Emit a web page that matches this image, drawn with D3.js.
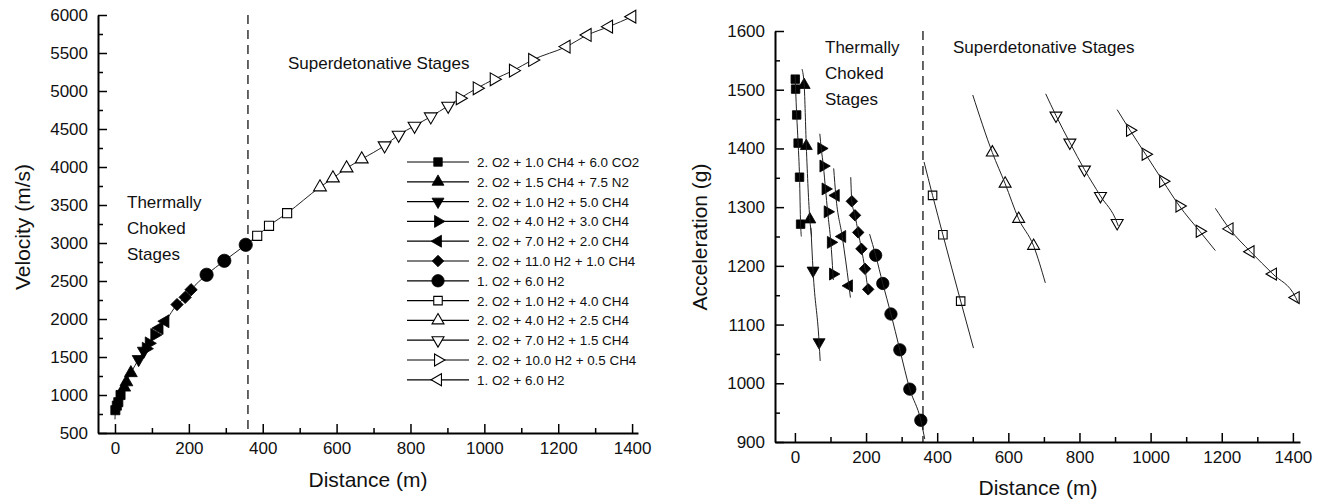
<!DOCTYPE html>
<html>
<head>
<meta charset="utf-8">
<script src="https://cdn.jsdelivr.net/npm/d3@7"></script>
<style>
  body { margin: 0; background: #fff; }
  text { font-family: "Liberation Sans", Arial, sans-serif; fill: #111; }
  .axis path, .axis line { stroke: #000; }
  .axis .domain { stroke-width: 2; }
  .axis .tick line { stroke-width: 1.5; }
  .axis text { font-size: 17px; font-family: "Liberation Sans", Arial, sans-serif; }
  .legend text { font-family: "Liberation Sans", Arial, sans-serif; font-size: 13.4px; }
</style>
</head>
<body>
<svg id="chart" width="1325" height="502"></svg>
<script>

// series (same order as the legend)
var seriesNames = [
  "2. O2 + 1.0 CH4 + 6.0 CO2",
  "2. O2 + 1.5 CH4 + 7.5 N2",
  "2. O2 + 1.0 H2 + 5.0 CH4",
  "2. O2 + 4.0 H2 + 3.0 CH4",
  "2. O2 + 7.0 H2 + 2.0 CH4",
  "2. O2 + 11.0 H2 + 1.0 CH4",
  "1. O2 + 6.0 H2",
  "2. O2 + 1.0 H2 + 4.0 CH4",
  "2. O2 + 4.0 H2 + 2.5 CH4",
  "2. O2 + 7.0 H2 + 1.5 CH4",
  "2. O2 + 10.0 H2 + 0.5 CH4",
  "1. O2 + 6.0 H2"
];

// velocity vs distance (left panel)
var velDistance = [
  [1, 5, 9, 15],
  [25, 31, 43],
  [64, 78],
  [84, 92, 107],
  [120, 136],
  [168, 190, 206],
  [248, 296, 354],
  [385, 417, 466],
  [555, 590, 627, 668],
  [730, 768, 811, 855, 902],
  [934, 980, 1026, 1078, 1130],
  [1222, 1279, 1337, 1400]
];
var velValue = [
  [800, 860, 905, 1000],
  [1100, 1170, 1290],
  [1470, 1580],
  [1610, 1680, 1790],
  [1880, 1970],
  [2190, 2285, 2385],
  [2582, 2766, 2976],
  [3095, 3226, 3393],
  [3735, 3853, 3984, 4103],
  [4282, 4422, 4541, 4663, 4804],
  [4904, 5036, 5154, 5268, 5408],
  [5584, 5737, 5847, 5978]
];
var velCurveStart = [0, 680];

// acceleration vs distance (right panel)
var accDistance = [
  [1, 2, 5, 9, 13, 16],
  [26, 32, 42],
  [51, 68],
  [74, 80, 86, 92, 101, 107],
  [115, 133, 152],
  [160, 169, 178, 187, 197, 206],
  [227, 247, 270, 295, 323, 354],
  [387, 416, 466],
  [555, 591, 629, 671],
  [734, 773, 814, 859, 906],
  [942, 986, 1035, 1081, 1138],
  [1222, 1281, 1344, 1408]
];
var accValue = [
  [1518, 1501, 1457, 1409, 1351, 1271],
  [1508, 1404, 1279],
  [1192, 1070],
  [1400, 1370, 1331, 1292, 1240, 1186],
  [1320, 1250, 1166],
  [1310, 1286, 1257, 1229, 1195, 1160],
  [1218, 1170, 1118, 1057, 990, 937],
  [1320, 1253, 1140],
  [1393, 1340, 1280, 1234],
  [1456, 1410, 1364, 1319, 1273],
  [1431, 1390, 1344, 1302, 1259],
  [1263, 1224, 1186, 1146]
];
// where each acceleration curve starts and ends [distance, g]
var accLineStart = [[0, 1525], [20, 1535], [45, 1265], [70, 1425], [109, 1366], [157, 1351],
                    [210, 1254], [363, 1377], [500, 1491], [705, 1493], [906, 1466], [1182, 1298]];
var accLineEnd = [[18, 1250], [47, 1250], [71, 1038], [108, 1176], [156, 1146], [208, 1156],
                  [365, 905], [502, 1060], [704, 1171], [909, 1268], [1182, 1226], [1415, 1137]];

var distTicks = [0, 200, 400, 600, 800, 1000, 1200, 1400];
var velTicks = [500, 1000, 1500, 2000, 2500, 3000, 3500, 4000, 4500, 5000, 5500, 6000];
var accTicks = [900, 1000, 1100, 1200, 1300, 1400, 1500, 1600];
var stageBoundary = 360;

// marker styles
var shapes = ["square", "up", "down", "right", "left", "diamond", "circle",
              "square", "up", "down", "right", "left"];
var hollow = [false, false, false, false, false, false, false, true, true, true, true, true];

var svg = d3.select("#chart");

function markerPath(shape, scale) {
  var type = d3.symbolTriangle, size = 62;
  if (shape == "square") { type = d3.symbolSquare; size = 72; }
  if (shape == "diamond") { type = d3.symbolSquare; size = 66; }
  if (shape == "circle") { type = d3.symbolCircle; size = 120; }
  return d3.symbol().type(type).size(size * scale)();
}
function markerTurn(shape) {
  return { down: 180, right: 90, left: -90, diamond: 45 }[shape] || 0;
}
function drawMarker(g, shape, open, x, y, scale) {
  g.append("path")
    .attr("d", markerPath(shape, scale))
    .attr("transform", "translate(" + x + "," + y + ") rotate(" + markerTurn(shape) + ")")
    .attr("fill", open ? "#fff" : "#000")
    .attr("stroke", "#000")
    .attr("stroke-width", open ? 1.1 : 0.8);
}

// draw axes with inward ticks, major + minor
function drawAxes(x, y, xMinor, yMinor, yTicks) {
  var bottom = y.range()[0], left = x.range()[0];
  svg.append("g").attr("class", "axis").attr("transform", "translate(0," + bottom + ")")
    .call(d3.axisBottom(x).tickValues(xMinor).tickSizeInner(-5).tickSizeOuter(0).tickFormat(""))
    .select(".domain").remove();
  svg.append("g").attr("class", "axis").attr("transform", "translate(" + left + ",0)")
    .call(d3.axisLeft(y).tickValues(yMinor).tickSizeInner(-5).tickSizeOuter(0).tickFormat(""))
    .select(".domain").remove();
  svg.append("g").attr("class", "axis").attr("transform", "translate(0," + bottom + ")")
    .call(d3.axisBottom(x).tickValues(distTicks).tickSizeInner(-9).tickSizeOuter(0).tickPadding(9).tickFormat(d3.format("d")));
  svg.append("g").attr("class", "axis").attr("transform", "translate(" + left + ",0)")
    .call(d3.axisLeft(y).tickValues(yTicks).tickSizeInner(-9).tickSizeOuter(0).tickPadding(10).tickFormat(d3.format("d")));
}

function dashedBoundary(x, y) {
  svg.append("line")
    .attr("x1", x(stageBoundary)).attr("x2", x(stageBoundary))
    .attr("y1", y.range()[1]).attr("y2", y.range()[0])
    .attr("stroke", "#000").attr("stroke-width", 1.2)
    .attr("stroke-dasharray", "9,6");
}

function label(txt, x, y, size, anchor, rotate) {
  var t = svg.append("text").attr("x", x).attr("y", y)
    .attr("font-size", size).attr("text-anchor", anchor || "start").text(txt);
  if (rotate) t.attr("transform", "rotate(-90," + x + "," + y + ")");
  return t;
}

// ================= left panel: velocity =================
var vx = d3.scaleLinear().domain([-46, 1416]).range([98, 638]);
var vy = d3.scaleLinear().domain([500, 6000]).range([433, 15]);

drawAxes(vx, vy, d3.range(100, 1400, 200), d3.range(750, 6000, 500), velTicks);
dashedBoundary(vx, vy);

var velPoints = [velCurveStart];
velDistance.forEach(function(ds, i) {
  ds.forEach(function(d, j) { velPoints.push([d, velValue[i][j]]); });
});
velPoints.sort(function(a, b) { return a[0] - b[0]; });

var vline = d3.line()
  .x(function(d) { return vx(d[0]); })
  .y(function(d) { return vy(d[1]); })
  .curve(d3.curveMonotoneX);

svg.append("path").datum(velPoints)
  .attr("d", vline).attr("fill", "none").attr("stroke", "#222").attr("stroke-width", 1);

var vmarks = svg.append("g");
velDistance.forEach(function(ds, i) {
  ds.forEach(function(d, j) {
    drawMarker(vmarks, shapes[i], hollow[i], vx(d), vy(velValue[i][j]), 1.15);
  });
});

label("Superdetonative Stages", 288, 69, 17);
label("Thermally", 127, 208, 17);
label("Choked", 127, 234, 17);
label("Stages", 127, 260, 17);
label("Velocity (m/s)", 30, 227, 21, "middle", true);
label("Distance (m)", 368, 487, 21, "middle");

// legend
var legend = svg.append("g").attr("class", "legend");
seriesNames.forEach(function(name, i) {
  var ly = 162 + i * 19.8;
  legend.append("line").attr("x1", 407).attr("x2", 469).attr("y1", ly).attr("y2", ly)
    .attr("stroke", "#000").attr("stroke-width", 1.2);
  drawMarker(legend, shapes[i], hollow[i], 438, ly, 1.0);
  legend.append("text").attr("x", 477).attr("y", ly + 5).text(name);
});

// ================= right panel: acceleration =================
var ax = d3.scaleLinear().domain([-56, 1420]).range([775, 1300]);
var ay = d3.scaleLinear().domain([900, 1600]).range([442, 31]);

drawAxes(ax, ay, d3.range(100, 1400, 200), d3.range(950, 1600, 100), accTicks);
dashedBoundary(ax, ay);

var aline = d3.line()
  .x(function(d) { return ax(d[0]); })
  .y(function(d) { return ay(d[1]); })
  .curve(d3.curveMonotoneX);

var amarks = svg.append("g");
accDistance.forEach(function(ds, i) {
  var pts = [accLineStart[i]];
  ds.forEach(function(d, j) { pts.push([d, accValue[i][j]]); });
  pts.push(accLineEnd[i]);
  svg.append("path").datum(pts)
    .attr("d", aline).attr("fill", "none").attr("stroke", "#222").attr("stroke-width", 1);
});
accDistance.forEach(function(ds, i) {
  ds.forEach(function(d, j) {
    drawMarker(amarks, shapes[i], hollow[i], ax(d), ay(accValue[i][j]), 1.0);
  });
});

label("Thermally", 825, 53, 17);
label("Choked", 825, 79, 17);
label("Stages", 825, 105, 17);
label("Superdetonative Stages", 953, 53, 17);
label("Acceleration (g)", 707, 237, 21, "middle", true);
label("Distance (m)", 1038, 495, 21, "middle");

</script>
</body>
</html>
